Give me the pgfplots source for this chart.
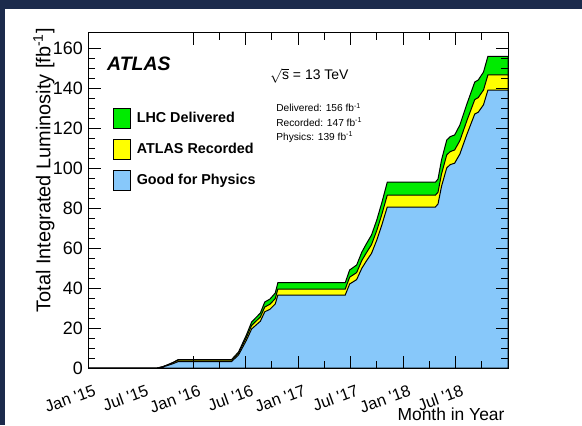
\documentclass[border=0pt]{standalone}
\usepackage{fontspec}
\setmainfont{Liberation Sans}
\usepackage{pgfplots}
\pgfplotsset{compat=1.18}
\definecolor{navy}{RGB}{28,43,76}
\definecolor{rootgreen}{RGB}{0,235,0}
\definecolor{rootyellow}{RGB}{255,255,0}
\definecolor{rootblue}{RGB}{135,200,250}
\begin{document}
\begin{tikzpicture}[x=1bp,y=1bp]
\fill[navy] (0,0) rectangle (582,425);
\fill[white] (5,0) rectangle (582,416);
\useasboundingbox (0,0) rectangle (582,425);
\begin{axis}[
  at={(88bp,57bp)}, anchor=south west,
  scale only axis, width=420bp, height=335bp,
  xmin=0, xmax=48, ymin=0, ymax=167.5,
  axis on top,
  tick align=inside,
  major tick length=12.5bp, minor tick length=7bp,
  every tick/.style={black, line width=0.8bp},
  axis line style={line width=1bp},
  xtick={12,18,...,42},
  xticklabels={Jan \textquotesingle16, Jul \textquotesingle16, Jan \textquotesingle17, Jul \textquotesingle17, Jan \textquotesingle18, Jul \textquotesingle18},
  extra x ticks={0,6},
  extra x tick labels={Jan \textquotesingle15, Jul \textquotesingle15},
  extra x tick style={major tick length=0pt},
  minor xtick={15,21,27,33,39,45},
  ytick={0,20,...,160},
  minor y tick num=3,
  /pgf/number format/assume math mode=true,
  yticklabel style={font=\fontsize{18}{18}\selectfont, anchor=east, inner sep=0pt, xshift=-5bp},
  xticklabel style={font=\fontsize{16.5}{16.5}\selectfont, inner sep=0pt, xshift=5bp, yshift=-16bp, rotate=20, anchor=north east},
  ylabel={Total Integrated Luminosity [fb\textsuperscript{-1}]},
  ylabel style={at={(axis description cs:-0.105,0.59)}, anchor=center, font=\fontsize{20}{20}\selectfont},
  xlabel={Month in Year},
  xlabel style={at={(axis description cs:1,-0.158)}, anchor=base east, font=\fontsize{17.5}{17.5}\selectfont},
  legend cell align=left,
  legend style={at={(rel axis cs:0.0595,0.776)}, anchor=north west, draw=none, fill=none,
    inner sep=0pt, outer sep=0pt, row sep=10bp, column sep=6bp,
    nodes={inner sep=0pt},
    font=\bfseries\fontsize{14.4}{14.4}\selectfont},
  legend image code/.code={\draw[#1, draw=black, line width=0.8bp] (0bp,-10bp) rectangle (17bp,10bp);},
]
\addplot[fill=rootgreen, draw=black, line width=1bp] coordinates {
(0,0) (7.9,0) (8.5,0.6) (9.2,1.8) (9.8,3.0) (10.3,4.2) (16.4,4.2) (17.2,8) (18.1,16.5) (18.7,23) (19.7,27.5) (20.2,33) (20.8,34.5) (21.4,37.5) (21.7,42.7) (29.4,42.7) (29.9,49) (30.7,51.5) (31.3,58) (31.8,62) (32.4,66.5) (33.0,74) (33.6,83) (34.2,92.9) (39.7,92.9) (40.0,94.5) (40.4,104) (41.0,114) (41.4,115.7) (41.9,116.5) (42.5,121.5) (43.3,132) (44.2,143) (44.6,144) (45.2,148) (45.7,155.8) (48,155.8)
} \closedcycle;
\addlegendentry{LHC Delivered}
\addplot[fill=rootyellow, draw=black, line width=1bp] coordinates {
(0,0) (7.9,0) (8.5,0.55) (9.2,1.7) (9.8,2.8) (10.3,3.9) (16.4,3.9) (17.2,7.4) (18.1,15.3) (18.7,21.3) (19.7,25.5) (20.2,30.5) (20.8,31.9) (21.4,34.7) (21.7,39.5) (29.4,39.5) (29.9,45.4) (30.7,47.7) (31.3,53.8) (31.8,57.5) (32.4,61.7) (33.0,68.7) (33.6,77.1) (34.2,86.4) (39.7,86.4) (40.0,87.9) (40.4,97.0) (41.0,106.6) (41.4,108.2) (41.9,109.0) (42.5,113.7) (43.3,123.7) (44.2,134.2) (44.6,135.2) (45.2,139.0) (45.7,146.5) (48,146.5)
} \closedcycle;
\addlegendentry{ATLAS Recorded}
\addplot[fill=rootblue, draw=black, line width=1bp] coordinates {
(0,0) (7.9,0) (8.5,0.45) (9.2,1.4) (9.8,2.3) (10.3,3.2) (16.4,3.2) (17.2,6.5) (18.1,13.8) (18.7,19.5) (19.7,23.4) (20.2,28.1) (20.8,29.4) (21.4,32.0) (21.7,36.5) (29.4,36.5) (29.9,42.0) (30.7,44.2) (31.3,49.9) (31.8,53.4) (32.4,57.3) (33.0,63.9) (33.6,71.8) (34.2,80.5) (39.7,80.5) (40.0,82.0) (40.4,90.8) (41.0,100.1) (41.4,101.7) (41.9,102.4) (42.5,107.0) (43.3,116.8) (44.2,127.0) (44.6,127.9) (45.2,131.6) (45.7,138.9) (48,138.9)
} \closedcycle;
\addlegendentry{Good for Physics}
\node[anchor=base west, inner sep=0pt, font=\bfseries\itshape\fontsize{19.5}{19.5}\selectfont] at (axis cs:2.17,148.5) {ATLAS};
\node[anchor=base west, inner sep=0pt, font=\fontsize{14}{14}\selectfont] at (axis cs:20.8,144) {$\sqrt{\mbox{s}}$ = 13 TeV};
\node[anchor=base west, inner sep=0pt, font=\fontsize{10.2}{10.2}\selectfont] at (axis cs:21.5,128) {Delivered: 156 fb\textsuperscript{-1}};
\node[anchor=base west, inner sep=0pt, font=\fontsize{10.2}{10.2}\selectfont] at (axis cs:21.5,121) {Recorded: 147 fb\textsuperscript{-1}};
\node[anchor=base west, inner sep=0pt, font=\fontsize{10.2}{10.2}\selectfont] at (axis cs:21.5,114) {Physics: 139 fb\textsuperscript{-1}};
\end{axis}
\end{tikzpicture}
\end{document}
